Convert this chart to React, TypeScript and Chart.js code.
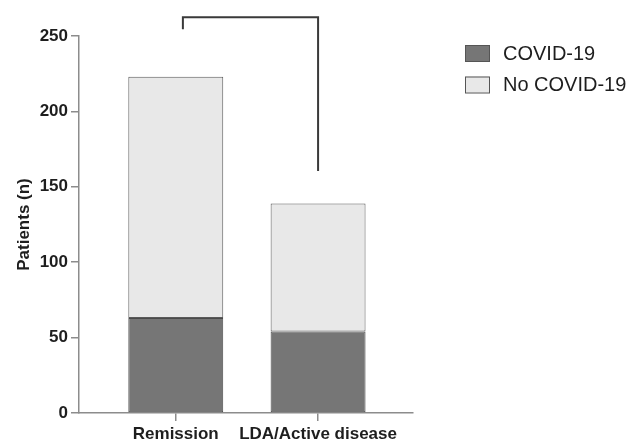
import React, { useEffect, useRef } from "react";
import { Chart, registerables } from "chart.js";

Chart.register(...registerables);

const categories = ["Remission", "LDA/Active disease"];
const seriesNames = ["COVID-19", "No COVID-19"];
const covidValues = [63, 54];
const noCovidValues = [160, 85];
const yTickValues = [0, 50, 100, 150, 200, 250];
// bracket: x values of legs, y values of the top and leg ends
const bracketLeftX = 0.05;
const bracketRightX = 1;
const bracketTopY = 262.5;
const bracketLeftBottomY = 254.5;
const bracketRightBottomY = 160.5;

const FONT = "'Liberation Sans', Arial, Helvetica, sans-serif";
const TEXT = "#1e1e1e";
const AXIS = "#8c8c8c";

const bracketPlugin = {
  id: "bracket",
  afterDatasetsDraw(chart: any) {
    const { ctx, scales } = chart;
    const x = scales.x;
    const y = scales.y;
    const x0 = x.getPixelForValue(bracketLeftX);
    const x1 = x.getPixelForValue(bracketRightX);
    ctx.save();
    ctx.strokeStyle = "#3a3a3a";
    ctx.lineWidth = 2;
    ctx.beginPath();
    ctx.moveTo(x0, y.getPixelForValue(bracketLeftBottomY));
    ctx.lineTo(x0, y.getPixelForValue(bracketTopY));
    ctx.lineTo(x1, y.getPixelForValue(bracketTopY));
    ctx.lineTo(x1, y.getPixelForValue(bracketRightBottomY));
    ctx.stroke();
    ctx.restore();
  },
};

const legendPlugin = {
  id: "sideLegend",
  afterDraw(chart: any) {
    const { ctx } = chart;
    const left = 465;
    const top = 45;
    const rowGap = 31.5;
    ctx.save();
    chart.data.datasets.forEach((ds: any, i: number) => {
      const yy = top + i * rowGap;
      ctx.fillStyle = ds.backgroundColor;
      ctx.fillRect(left, yy, 24, 16);
      ctx.strokeStyle = "#555555";
      ctx.lineWidth = 1;
      ctx.strokeRect(left + 0.5, yy + 0.5, 24, 16);
      ctx.fillStyle = TEXT;
      ctx.font = `20px ${FONT}`;
      ctx.textBaseline = "middle";
      ctx.textAlign = "left";
      ctx.fillText(ds.label, 503, yy + 9);
    });
    ctx.restore();
  },
};

export default function App() {
  const ref = useRef<HTMLCanvasElement | null>(null);

  useEffect(() => {
    document.body.style.margin = "0";
    const canvas = ref.current;
    if (!canvas) return;
    const chart = new Chart(canvas, {
      type: "bar",
      data: {
        datasets: [
          {
            label: seriesNames[0],
            data: categories.map((_, i) => ({ x: i, y: covidValues[i] })),
            backgroundColor: "#767676",
            borderColor: "#4a4a4a",
            borderWidth: 1,
            borderSkipped: false,
            barPercentage: 0.667,
            categoryPercentage: 1,
          },
          {
            label: seriesNames[1],
            data: categories.map((_, i) => ({ x: i, y: noCovidValues[i] })),
            backgroundColor: "#e8e8e8",
            borderColor: "#5a5a5a",
            borderWidth: 1,
            borderSkipped: false,
            barPercentage: 0.667,
            categoryPercentage: 1,
          },
        ],
      },
      options: {
        animation: false,
        responsive: false,
        events: [],
        layout: { padding: { top: 36, right: 224, left: 0, bottom: 0 } },
        plugins: {
          legend: { display: false },
          tooltip: { enabled: false },
        },
        scales: {
          x: {
            type: "linear",
            stacked: true,
            min: -0.68,
            max: 1.667,
            offset: false,
            afterBuildTicks: (scale: any) => {
              scale.ticks = categories.map((_, i) => ({ value: i }));
            },
            afterFit: (scale: any) => {
              scale.height = 28;
            },
            grid: {
              offset: false,
              drawOnChartArea: false,
              drawTicks: true,
              tickLength: 8,
              color: AXIS,
              lineWidth: 1.5,
            },
            border: { color: AXIS, width: 1.5 },
            ticks: {
              autoSkip: false,
              maxRotation: 0,
              padding: 3,
              color: TEXT,
              font: { family: FONT, size: 17, weight: "bold" },
              callback: (v: any) => categories[v as number] ?? "",
            },
          },
          y: {
            stacked: true,
            min: 0,
            max: 250,
            afterBuildTicks: (scale: any) => {
              scale.ticks = yTickValues.map((v) => ({ value: v }));
            },
            afterFit: (scale: any) => {
              scale.width = 79;
            },
            grid: {
              drawOnChartArea: false,
              drawTicks: true,
              tickLength: 8,
              color: AXIS,
              lineWidth: 1.5,
            },
            border: { color: AXIS, width: 1.5 },
            ticks: {
              padding: 3,
              color: TEXT,
              font: { family: FONT, size: 17, weight: "bold" },
            },
            title: {
              display: true,
              text: "Patients (n)",
              color: TEXT,
              font: { family: FONT, size: 17, weight: "bold" },
              padding: { top: 14, bottom: 0 },
            },
          },
        },
      },
      plugins: [bracketPlugin, legendPlugin],
    });
    return () => chart.destroy();
  }, []);

  return (
    <div style={{ width: 637, height: 441, background: "#ffffff" }}>
      <canvas ref={ref} width={637} height={441} style={{ width: 637, height: 441, display: "block" }} />
    </div>
  );
}
